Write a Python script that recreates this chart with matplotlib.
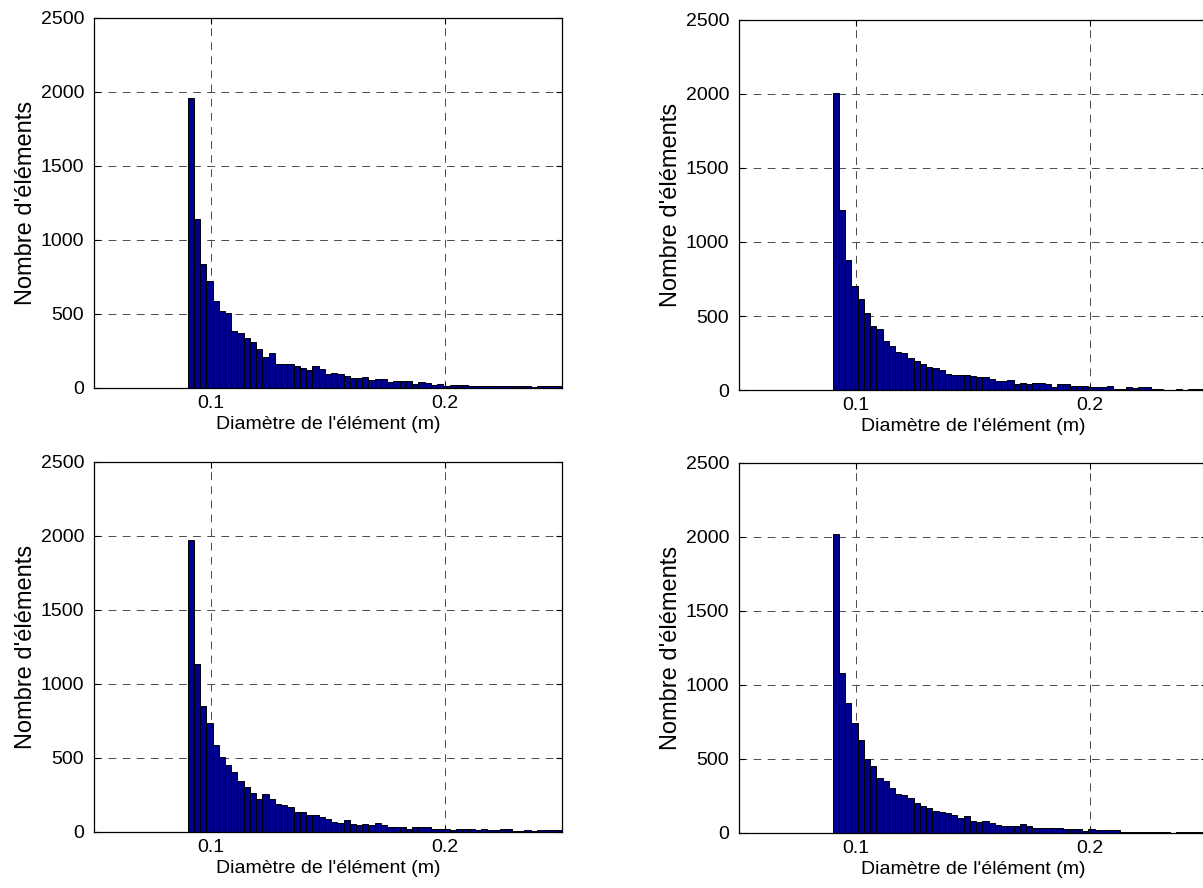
import numpy as np
import matplotlib
matplotlib.use("Agg")
import matplotlib.pyplot as plt

plt.rcParams['font.family'] = ['Liberation Sans', 'DejaVu Sans']

# histogram bins: 60 bins from 0.09 m to 0.25 m
bin_start = 0.09
bin_width = 0.16 / 60

counts_tl = [1960, 1140, 838, 725, 585, 518, 504, 383, 369, 340,
             308, 263, 207, 234, 160, 160, 160, 146, 133, 124,
             146, 131, 95, 101, 92, 79, 65, 65, 72, 56,
             60, 58, 40, 47, 47, 45, 27, 40, 31, 22,
             25, 11, 22, 22, 22, 11, 11, 11, 11, 11,
             11, 11, 11, 11, 11, 7, 16, 16, 16, 16]

counts_tr = [2010, 1215, 875, 703, 618, 520, 430, 409, 333, 294,
             258, 251, 215, 197, 174, 156, 147, 138, 109, 102,
             102, 102, 93, 88, 88, 77, 63, 59, 66, 41,
             50, 43, 45, 45, 40, 23, 38, 38, 29, 29,
             29, 20, 20, 20, 29, 9, 9, 20, 11, 18,
             18, 9, 9, 2, 2, 9, 2, 9, 9, 9]

counts_bl = [1975, 1135, 853, 734, 590, 509, 450, 408, 347, 306,
             263, 221, 257, 221, 191, 180, 169, 137, 137, 117,
             117, 101, 88, 68, 61, 79, 54, 47, 56, 50,
             63, 50, 34, 34, 34, 23, 34, 34, 34, 20,
             20, 20, 11, 18, 18, 18, 11, 20, 14, 14,
             18, 18, 9, 9, 14, 9, 11, 11, 11, 11]

counts_br = [2020, 1081, 880, 741, 628, 502, 455, 369, 354, 302,
             263, 254, 234, 203, 185, 167, 151, 142, 135, 122,
             99, 113, 83, 72, 83, 68, 54, 45, 45, 45,
             61, 45, 34, 34, 34, 34, 34, 27, 27, 27,
             16, 27, 18, 18, 18, 18, 9, 9, 9, 9,
             9, 9, 9, 9, 2, 9, 9, 9, 9, 9]

x_ticks = [0.1, 0.2]
x_ticklabels = ['0.1', '0.2']
y_ticks = [0, 500, 1000, 1500, 2000, 2500]

xlabel = "Diamètre de l'élément (m)"
ylabel = "Nombre d'éléments"

fig = plt.figure(figsize=(12.03, 8.88), dpi=100)

# [left, bottom, width, height] in figure fraction
positions = [
    [0.0781, 0.5631, 0.389, 0.4167],
    [0.6143, 0.5608, 0.389, 0.4167],
    [0.0781, 0.0631, 0.389, 0.4167],
    [0.6143, 0.0620, 0.389, 0.4167],
]
all_counts = [counts_tl, counts_tr, counts_bl, counts_br]

for pos, counts in zip(positions, all_counts):
    ax = fig.add_axes(pos)
    edges = bin_start + bin_width * np.arange(len(counts))
    ax.bar(edges, counts, width=bin_width, align='edge',
           color='#00008F', edgecolor='black', linewidth=0.7, zorder=2)
    ax.set_xlim(0.05, 0.25)
    ax.set_ylim(0, 2500)
    ax.set_xticks(x_ticks)
    ax.set_xticklabels(x_ticklabels)
    ax.set_yticks(y_ticks)
    ax.set_axisbelow(True)
    ax.grid(True, color='#4a4a4a', linestyle=(0, (8, 6.5)), linewidth=0.7)
    ax.tick_params(direction='in', length=4, width=0.8, labelsize=14,
                   top=True, right=True)
    ax.tick_params(axis='y', pad=7)
    ax.tick_params(axis='x', pad=5)
    for s in ax.spines.values():
        s.set_linewidth(0.9)
    ax.set_xlabel(xlabel, fontsize=14, labelpad=3)
    ax.set_ylabel(ylabel, fontsize=17, labelpad=3)

fig.savefig('out.png', dpi=100)
